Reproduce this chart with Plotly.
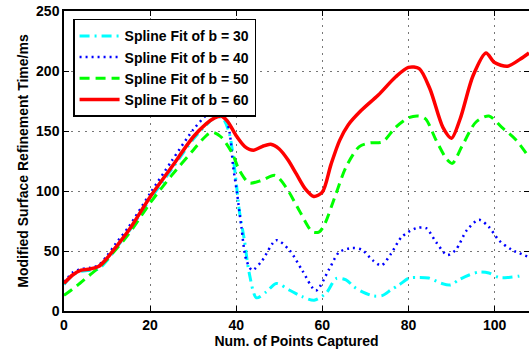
import plotly.graph_objects as go

# ---- data ----
x_b30 = [0, 2, 4, 6, 8, 10, 12, 15, 20, 25, 30, 33, 35, 36.8, 38.4, 40, 40.7, 41.9, 43, 44.7, 47, 49.3,
         52.3, 55.3, 58.1, 60.9, 63.2, 65.5, 67.4, 69.3, 72, 74, 75.9, 77.8, 80.2, 82.3, 84.7, 87.7,
         89.8, 91.7, 94.1, 96.4, 98.7, 101, 103.3, 105.6, 106.2]
y_b30 = [22, 30, 33, 34, 35, 42, 52, 66, 93, 118, 143, 155, 161, 161, 148, 107, 84, 59, 32, 11, 16, 23,
         17.5, 12, 9, 15, 27, 26, 20, 16, 12.5, 13, 17.5, 21.7, 27.5, 28, 27.5, 23,
         21.7, 26, 30, 32.5, 31.7, 28, 28, 29, 29.5]

x_b40 = [0, 2, 4, 6, 8, 10, 12, 15, 20, 25, 30, 33, 35, 36.3, 37.5, 38.5, 39.3, 40.2, 41.2, 42.3, 43.7,
         46, 49.3, 52.3, 55.3, 58.5, 61.6, 63.9, 66.9, 69.2, 71.6, 73.7, 76, 78.5, 81.8, 84.1, 86.4,
         89, 91, 93.6, 96.4, 98.7, 101, 104, 108]
y_b40 = [24, 32, 35, 36, 38, 46, 56, 70, 98, 125, 151, 163, 168, 171, 163, 148, 120, 98, 70, 43, 34,
         42, 59, 51, 34, 17, 35, 49, 52.5, 51, 42.5, 38, 48, 62, 69, 69, 57.5,
         46.7, 51, 67.5, 76, 70, 59, 51, 45]

x_b50 = [0, 3, 6, 8, 10, 12, 15, 20, 25, 30, 33, 34.5, 36.5, 39, 40.7, 43, 46, 49, 51.6, 54.6, 57.7,
         59.3, 60.5, 63.2, 65.5, 68.6, 71, 74, 77, 80, 82.4, 84, 86.4, 89, 90.2, 92.4, 95.7, 98.7,
         101.7, 105, 108]
y_b50 = [13, 21, 30, 36, 43, 51, 64, 90, 113, 134, 146, 149, 145, 132, 117.5, 106.7, 109, 113, 103, 84, 66,
         66, 72, 98, 120, 137, 140, 141, 153, 161, 162.5, 160, 142.5, 126, 123, 137, 157.5, 162.5,
         153, 142.5, 128]

x_b60 = [0, 2, 4, 6, 8, 10, 12, 15, 20, 25, 30, 33, 35, 36.5, 38, 40, 42, 44, 46, 48, 50, 52, 54, 56,
         58, 60, 62, 64, 66, 69, 73, 77, 80, 82.5, 85, 88, 90, 92, 95, 98, 100, 103, 106, 108]
y_b60 = [23, 30, 34, 35, 37, 44, 53, 67, 95, 120, 145, 156, 161, 162.5, 158, 146, 137, 134, 137, 139, 135,
         126, 114, 102, 95.5, 99, 122, 142, 155, 167, 180, 195, 203, 202, 185, 153, 144, 160, 196, 215,
         207, 204, 210, 215]

x_ticks = [0, 20, 40, 60, 80, 100]
y_ticks = [0, 50, 100, 150, 200, 250]
names = ["Spline Fit of b = 30", "Spline Fit of b = 40", "Spline Fit of b = 50", "Spline Fit of b = 60"]

FONT = "Liberation Sans, Arial, sans-serif"

fig = go.Figure()
styles = [
    ("#00FFFF", 3, "10px,5px,2px,5px"),
    ("#0000FF", 2.5, "2px,4px"),
    ("#00FF00", 3, "10px,6px"),
    ("#FF0000", 3.5, "solid"),
]
for (xs, ys), name, (col, w, dash) in zip(
        [(x_b30, y_b30), (x_b40, y_b40), (x_b50, y_b50), (x_b60, y_b60)], names, styles):
    fig.add_trace(go.Scatter(x=xs, y=ys, mode="lines", name=name,
                             line=dict(color=col, width=w, dash=dash, shape="spline", smoothing=0.8)))

axis_common = dict(
    showline=True, linecolor="black", linewidth=1.5, mirror="ticks",
    ticks="inside", ticklen=5, tickcolor="black",
    showgrid=True, gridcolor="#777777", gridwidth=1, griddash="2px,5px",
    zeroline=False, automargin=False,
    tickfont=dict(family=FONT, size=14, color="black", weight="bold"),
)

fig.update_layout(
    width=529, height=354,
    margin=dict(l=64, r=0, t=11, b=43),
    paper_bgcolor="white", plot_bgcolor="white",
    xaxis=dict(range=[0, 108], tickvals=x_ticks, **axis_common,
               title=dict(text="Num. of Points Captured", standoff=4,
                          font=dict(family=FONT, size=14, color="black", weight="bold"))),
    yaxis=dict(range=[0, 250], tickvals=y_ticks, **axis_common,
               title=dict(text="Modified Surface Refinement Time/ms", standoff=4,
                          font=dict(family=FONT, size=14, color="black", weight="bold"))),
    legend=dict(x=0.0195, y=0.974, xanchor="left", yanchor="top",
                bgcolor="white", bordercolor="black", borderwidth=1.5,
                font=dict(family=FONT, size=14, color="black", weight="bold"),
                itemwidth=40),
    showlegend=True,
)

# remove the browser's default 8px body margin so the figure sits at the window's corner
fig.write_html("out.html", config={"displayModeBar": False},
               post_script="document.body.style.margin='0px';")
